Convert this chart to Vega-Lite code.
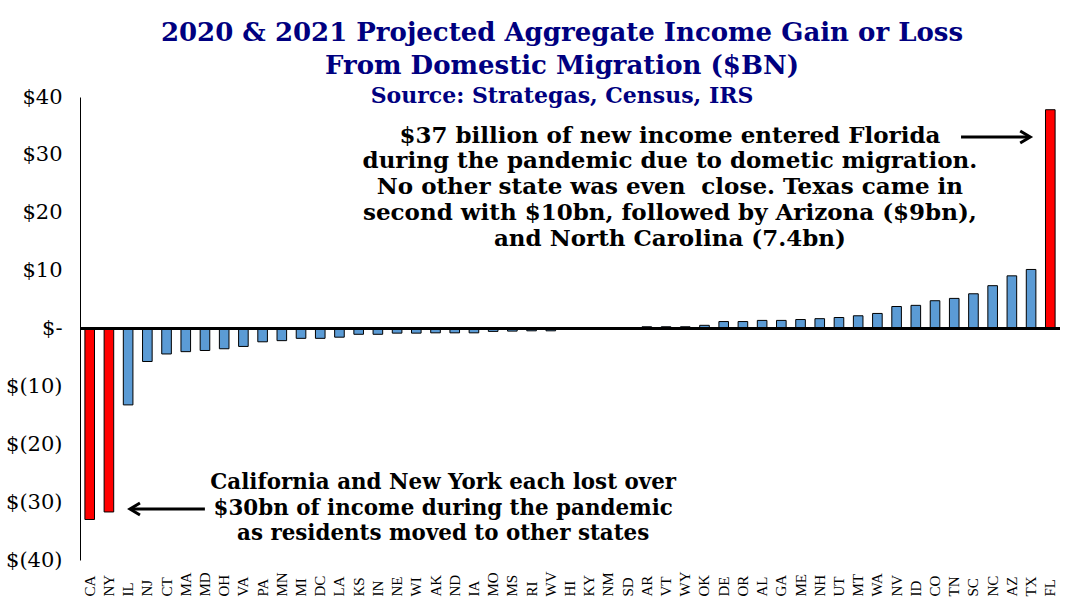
{
  "$schema": "https://vega.github.io/schema/vega-lite/v6.json",
  "width": 980,
  "height": 463,
  "autosize": "none",
  "padding": {"left": 80, "top": 97, "right": 28, "bottom": 46},
  "background": "white",
  "config": {"view": {"stroke": null}},
  "title": {
    "text": ["2020 & 2021 Projected Aggregate Income Gain or Loss", "From Domestic Migration ($BN)"],
    "subtitle": "Source: Strategas, Census, IRS",
    "font": "DejaVu Serif",
    "fontSize": 26,
    "fontWeight": "bold",
    "color": "#000080",
    "lineHeight": 33,
    "subtitleFont": "DejaVu Serif",
    "subtitleFontSize": 22,
    "subtitleFontWeight": "bold",
    "subtitleColor": "#000080",
    "subtitlePadding": 7,
    "offset": -21,
    "dx": -8,
    "anchor": "middle"
  },
  "datasets": {
    "states": [
      {"state": "CA", "value": -33.0},
      {"state": "NY", "value": -31.7},
      {"state": "IL", "value": -13.2},
      {"state": "NJ", "value": -5.7},
      {"state": "CT", "value": -4.4},
      {"state": "MA", "value": -4.0},
      {"state": "MD", "value": -3.8},
      {"state": "OH", "value": -3.5},
      {"state": "VA", "value": -3.1},
      {"state": "PA", "value": -2.3},
      {"state": "MN", "value": -2.1},
      {"state": "MI", "value": -1.7},
      {"state": "DC", "value": -1.7},
      {"state": "LA", "value": -1.5},
      {"state": "KS", "value": -1.0},
      {"state": "IN", "value": -1.0},
      {"state": "NE", "value": -0.8},
      {"state": "WI", "value": -0.8},
      {"state": "AK", "value": -0.75},
      {"state": "ND", "value": -0.75},
      {"state": "IA", "value": -0.75},
      {"state": "MO", "value": -0.5},
      {"state": "MS", "value": -0.45},
      {"state": "RI", "value": -0.4},
      {"state": "WV", "value": -0.4},
      {"state": "HI", "value": -0.15},
      {"state": "KY", "value": -0.1},
      {"state": "NM", "value": 0.1},
      {"state": "SD", "value": 0.15},
      {"state": "AR", "value": 0.3},
      {"state": "VT", "value": 0.3},
      {"state": "WY", "value": 0.3},
      {"state": "OK", "value": 0.55},
      {"state": "DE", "value": 1.2},
      {"state": "OR", "value": 1.2},
      {"state": "AL", "value": 1.4},
      {"state": "GA", "value": 1.4},
      {"state": "ME", "value": 1.55},
      {"state": "NH", "value": 1.7},
      {"state": "UT", "value": 1.9},
      {"state": "MT", "value": 2.2},
      {"state": "WA", "value": 2.6},
      {"state": "NV", "value": 3.8},
      {"state": "ID", "value": 4.0},
      {"state": "CO", "value": 4.8},
      {"state": "TN", "value": 5.2},
      {"state": "SC", "value": 6.0},
      {"state": "NC", "value": 7.4},
      {"state": "AZ", "value": 9.1},
      {"state": "TX", "value": 10.2},
      {"state": "FL", "value": 37.8}
    ]
  },
  "layer": [
    {
      "data": {"name": "states"},
      "layer": [
        {
          "mark": {"type": "bar", "stroke": "black", "strokeWidth": 1},
          "encoding": {
            "x": {
              "field": "state",
              "type": "nominal",
              "sort": null,
              "scale": {"paddingInner": 0.5, "paddingOuter": 0.255},
              "axis": {
                "title": null,
                "labelAngle": 270,
                "labelAlign": "left",
                "labelBaseline": "middle",
                "labelPadding": 36,
                "ticks": false,
                "domain": false,
                "labelFont": "Liberation Serif",
                "labelFontSize": 15,
                "labelColor": "black"
              }
            },
            "y": {
              "field": "value",
              "type": "quantitative",
              "scale": {"domain": [-40, 40], "nice": false},
              "axis": {
                "title": null,
                "values": [-40, -30, -20, -10, 0, 10, 20, 30, 40],
                "labelExpr": "datum.value == 0 ? '$-\u2009' : (datum.value < 0 ? '$(' + abs(datum.value) + ')' : '$' + datum.value + '\u2002')",
                "ticks": false,
                "grid": false,
                "domain": true,
                "domainColor": "black",
                "domainWidth": 1,
                "labelPadding": 18,
                "labelFont": "DejaVu Serif",
                "labelFontSize": 21,
                "labelColor": "black"
              }
            },
            "fill": {
              "condition": {"test": "abs(datum.value) > 20", "value": "#FF0000"},
              "value": "#5B9BD5"
            }
          }
        },
        {
          "mark": {"type": "rule", "color": "black", "strokeWidth": 1.5},
          "encoding": {"y": {"datum": 0, "type": "quantitative"}}
        }
      ]
    },
    {
      "data": {"values": [{}]},
      "layer": [
        {
          "mark": {"type": "text", "font": "DejaVu Serif", "fontWeight": "bold", "fontSize": 23, "align": "center", "baseline": "top", "lineHeight": 25.7, "color": "black"},
          "encoding": {
            "x": {"datum": 30.7, "type": "quantitative", "scale": {"domain": [0, 51]}, "axis": null},
            "y": {"datum": 35.2, "type": "quantitative"},
            "text": {"value": ["$37 billion of new income entered Florida", "during the pandemic due to dometic migration.", "No other state was even \u00a0close. Texas came in", "second with $10bn, followed by Arizona ($9bn),", "and North Carolina (7.4bn)"]}
          }
        },
        {
          "mark": {"type": "text", "font": "DejaVu Serif", "fontWeight": "bold", "fontSize": 21.4, "align": "center", "baseline": "top", "lineHeight": 25.5, "color": "black"},
          "encoding": {
            "x": {"datum": 18.9, "type": "quantitative", "scale": {"domain": [0, 51]}, "axis": null},
            "y": {"datum": -24.85, "type": "quantitative"},
            "text": {"value": ["California and New York each lost over", "$30bn of income during the pandemic", "as residents moved to other states"]}
          }
        },
        {
          "mark": {"type": "rule", "color": "black", "strokeWidth": 3},
          "encoding": {
            "x": {"datum": 45.85, "type": "quantitative", "scale": {"domain": [0, 51]}, "axis": null},
            "x2": {"datum": 49.4},
            "y": {"datum": 33.1, "type": "quantitative"}
          }
        },
        {
          "mark": {"type": "point", "shape": "M-1,-0.6L0,0L-1,0.6", "filled": false, "stroke": "black", "strokeWidth": 3, "size": 400, "opacity": 1},
          "encoding": {
            "x": {"datum": 49.45, "type": "quantitative", "scale": {"domain": [0, 51]}, "axis": null},
            "y": {"datum": 33.1, "type": "quantitative"}
          }
        },
        {
          "mark": {"type": "rule", "color": "black", "strokeWidth": 3},
          "encoding": {
            "x": {"datum": 2.65, "type": "quantitative", "scale": {"domain": [0, 51]}, "axis": null},
            "x2": {"datum": 6.5},
            "y": {"datum": -31.2, "type": "quantitative"}
          }
        },
        {
          "mark": {"type": "point", "shape": "M1,-0.6L0,0L1,0.6", "filled": false, "stroke": "black", "strokeWidth": 3, "size": 400, "opacity": 1},
          "encoding": {
            "x": {"datum": 2.6, "type": "quantitative", "scale": {"domain": [0, 51]}, "axis": null},
            "y": {"datum": -31.2, "type": "quantitative"}
          }
        }
      ]
    }
  ],
  "resolve": {"scale": {"x": "independent"}}
}
